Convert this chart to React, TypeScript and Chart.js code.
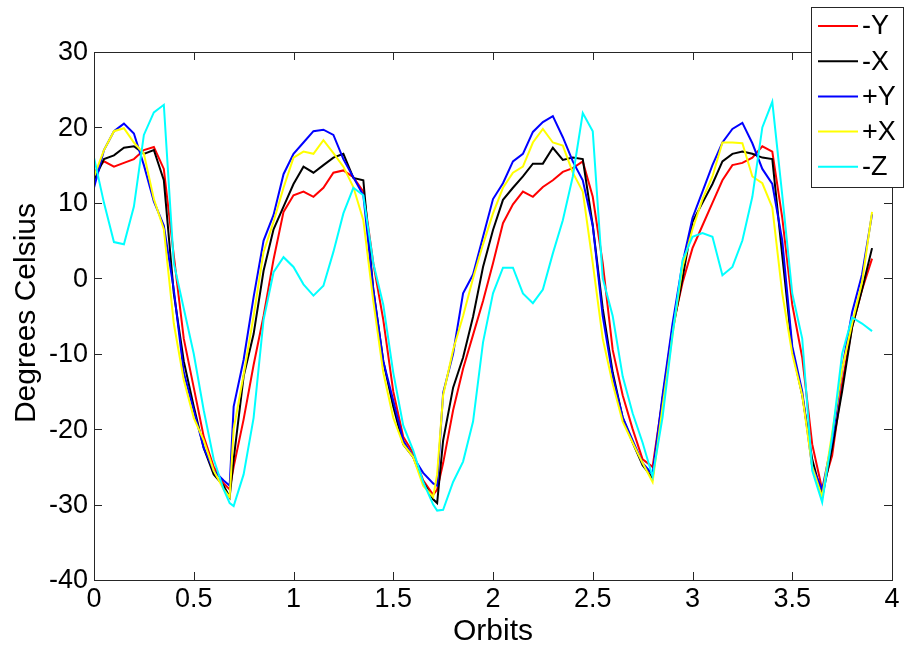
import React, { useEffect, useRef } from "react";
import { Chart, registerables } from "chart.js";

Chart.register(...registerables);

const orbits = [
  0, 0.05, 0.1, 0.15, 0.2, 0.25, 0.3, 0.35, 0.4, 0.45, 0.5, 0.55, 0.6, 0.65, 0.68, 0.7,
  0.75, 0.8, 0.85, 0.9, 0.95, 1.0, 1.05, 1.1, 1.15, 1.2, 1.25, 1.3, 1.35, 1.4, 1.45, 1.5,
  1.55, 1.6, 1.65, 1.7, 1.72, 1.75, 1.8, 1.85, 1.9, 1.95, 2.0, 2.05, 2.1, 2.15, 2.2, 2.25,
  2.3, 2.35, 2.4, 2.45, 2.5, 2.55, 2.6, 2.65, 2.7, 2.75, 2.8, 2.85, 2.9, 2.95, 3.0, 3.05,
  3.1, 3.15, 3.2, 3.25, 3.3, 3.35, 3.4, 3.45, 3.5, 3.55, 3.6, 3.65, 3.7, 3.75, 3.8, 3.85, 3.9,
];

const minusY = [
  14, 15.5, 14.8, 15.3, 15.8, 17, 17.4, 14.5, 3, -8, -14.5, -21, -25, -27.2, -28, -25,
  -18.7, -11.5, -5, 2.5, 8.8, 11, 11.5, 10.8, 12, 14, 14.3, 13.4, 11.5, 2, -5.5, -15,
  -21, -23.2, -26.8, -28.7, -28, -24.5, -17.5, -12, -7.5, -3, 2, 7.3, 9.8, 11.5, 10.8, 12.1,
  13, 14.1, 14.6, 15.5, 10.8, 2, -9.5, -15.5, -20, -24, -25, -16, -6.5, -0.6, 4, 7,
  10, 13, 15, 15.3, 16, 17.5, 16.8, 8, -3.5, -10.5, -22, -28, -23.5, -14, -6.5, -1.5, 2.6,
];

const minusX = [
  13, 15.8, 16.3, 17.3, 17.5, 16.5, 17, 13, -2, -11, -17, -22.5, -26, -27.5, -29, -24,
  -13, -7.4, 1, 6.5, 9.5, 12.5, 14.8, 14, 15, 16, 16.5, 13.3, 13, -1.5, -11, -17,
  -22, -23.7, -27, -29.3, -29.8, -21.5, -14.5, -10.5, -5.1, 1.5, 6.4, 10.4, 12, 13.5, 15.2, 15.2,
  17.3, 15.7, 16, 15.8, 7, -4, -12.5, -18.5, -21.8, -24.8, -26.5, -16, -7, 0, 7.5, 10,
  12.5, 15.5, 16.5, 16.8, 16.5, 16, 15.8, 3, -9.5, -15.5, -24, -29, -22.5, -15, -6.5, -1.5, 4,
];

const plusY = [
  12, 17, 19.5, 20.5, 19.2, 15, 10.2, 7, -1.5, -12.5, -17.5, -22.5, -25.5, -26.8, -27.5, -17,
  -10.8, -2.5, 5, 8.4, 13.8, 16.5, 18, 19.5, 19.7, 19, 15.8, 13.4, 11, -1.5, -11, -16.2,
  -21.5, -23.7, -25.8, -27.2, -27.5, -15.2, -10, -2, 0.5, 5.5, 10.5, 12.6, 15.5, 16.5, 19.4, 20.7,
  21.5, 18.7, 15.5, 13, 7, -5, -13, -18.4, -21.5, -24.5, -26, -15.5, -6, 2, 8, 11.5,
  15, 18, 19.8, 20.6, 17.9, 14.5, 12.5, 5, -9, -15, -25, -28, -21.5, -12, -4.5, 0.5, 8.5,
];

const plusX = [
  13.5, 17, 19.5, 19.9, 18, 16.5, 10.5, 6.5, -6, -13.5, -18.5, -21.5, -25.5, -28, -29, -20,
  -12.8, -5, 3.5, 7.5, 12, 16, 16.8, 16.5, 18.3, 16.6, 14.8, 12.1, 7.7, -3, -12.5, -18.5,
  -22, -23.7, -27.5, -29, -26, -15.5, -9.5, -5, 0, 4.5, 8.6, 12, 14, 14.8, 18, 19.8,
  18, 17.6, 14, 11.5, 2, -8, -14, -19, -21.8, -24.5, -27, -17, -7.5, 1.5, 6.5, 10.5,
  13.5, 18, 18, 17.9, 13.5, 12.6, 9.4, -2, -10, -15.5, -25, -29, -20.5, -12, -6, -0.5, 8.8,
];

const minusZ = [
  16, 10, 4.8, 4.5, 9.5, 19, 22, 23, 2, -4, -10, -17.5, -24, -28, -29.8, -30.2,
  -26, -18.5, -5.5, 0.8, 2.8, 1.5, -0.8, -2.3, -1, 3.5, 8.6, 12, 11, 2, -3.5, -12.5,
  -19.5, -22.8, -27, -30, -30.8, -30.7, -27, -24.3, -19, -8.5, -2, 1.4, 1.4, -2, -3.3, -1.5,
  3.3, 7.7, 13.5, 21.9, 19.5, 0, -5, -13, -17.9, -21.8, -26.3, -18.4, -7.5, 2.4, 5.5, 6,
  5.5, 0.4, 1.5, 5, 10.8, 20, 23.4, 11, -2, -8, -25.5, -29.7, -21, -10, -5.2, -6, -7,
];

const xTicks = [0, 0.5, 1, 1.5, 2, 2.5, 3, 3.5, 4];
const yTicks = [-40, -30, -20, -10, 0, 10, 20, 30];
const xTickLabels = ["0", "0.5", "1", "1.5", "2", "2.5", "3", "3.5", "4"];
const yTickLabels = ["-40", "-30", "-20", "-10", "0", "10", "20", "30"];

const seriesNames = ["-Y", "-X", "+Y", "+X", "-Z"];
const seriesColors = ["#ff0000", "#000000", "#0000ff", "#ffff00", "#00ffff"];
const seriesValues = [minusY, minusX, plusY, plusX, minusZ];

const FONT = '"Liberation Sans", Arial, Helvetica, sans-serif';

const framePlugin = {
  id: "matlabFrame",
  afterDatasetsDraw(chart: any) {
    const ctx = chart.ctx as CanvasRenderingContext2D;
    const { left, right, top, bottom } = chart.chartArea;
    const xs = chart.scales.x;
    const ys = chart.scales.y;
    ctx.save();
    // box
    ctx.strokeStyle = "#262626";
    ctx.lineWidth = 1;
    ctx.strokeRect(Math.round(left) + 0.5, Math.round(top) + 0.5, Math.round(right - left), Math.round(bottom - top));
    // ticks
    const tl = 8;
    ctx.beginPath();
    xTicks.forEach((t, i) => {
      if (i === 0 || i === xTicks.length - 1) return;
      const px = Math.round(xs.getPixelForValue(t)) + 0.5;
      ctx.moveTo(px, bottom);
      ctx.lineTo(px, bottom - tl);
      ctx.moveTo(px, top);
      ctx.lineTo(px, top + tl);
    });
    yTicks.forEach((t, i) => {
      if (i === 0 || i === yTicks.length - 1) return;
      const py = Math.round(ys.getPixelForValue(t)) + 0.5;
      ctx.moveTo(left, py);
      ctx.lineTo(left + tl, py);
      ctx.moveTo(right, py);
      ctx.lineTo(right - tl, py);
    });
    ctx.stroke();

    // tick labels
    ctx.fillStyle = "#000";
    ctx.font = `27px ${FONT}`;
    ctx.textAlign = "center";
    ctx.textBaseline = "middle";
    xTicks.forEach((t, i) => {
      ctx.fillText(xTickLabels[i], xs.getPixelForValue(t), bottom + 20);
    });
    ctx.textAlign = "right";
    yTicks.forEach((t, i) => {
      ctx.fillText(yTickLabels[i], left - 6, ys.getPixelForValue(t) + 1);
    });

    // axis titles
    ctx.font = `30px ${FONT}`;
    ctx.textAlign = "center";
    ctx.fillText("Orbits", (left + right) / 2, bottom + 52);
    ctx.save();
    ctx.translate(27, (top + bottom) / 2 - 3);
    ctx.rotate(-Math.PI / 2);
    ctx.fillText("Degrees Celsius", 0, 0);
    ctx.restore();

    // legend
    const lx = 811.5, ly = 7.5, lw = 92, lh = 180;
    ctx.fillStyle = "#fff";
    ctx.fillRect(lx, ly, lw, lh);
    ctx.strokeStyle = "#262626";
    ctx.lineWidth = 1;
    ctx.strokeRect(lx, ly, lw, lh);
    ctx.font = `27px ${FONT}`;
    ctx.textAlign = "left";
    ctx.textBaseline = "middle";
    seriesNames.forEach((name, i) => {
      const ry = 26 + i * 35.2;
      ctx.strokeStyle = seriesColors[i];
      ctx.lineWidth = 2;
      ctx.beginPath();
      ctx.moveTo(818, ry);
      ctx.lineTo(858, ry);
      ctx.stroke();
      ctx.fillStyle = "#000";
      ctx.fillText(name, 862, ry + 1);
    });
    ctx.restore();
  },
};

export default function App() {
  const ref = useRef<HTMLCanvasElement | null>(null);
  useEffect(() => {
    if (!ref.current) return;
    const datasets = seriesNames.map((name, i) => ({
      label: name,
      data: orbits.map((o, j) => ({ x: o, y: seriesValues[i][j] })),
      borderColor: seriesColors[i],
      backgroundColor: seriesColors[i],
      borderWidth: 2,
      pointRadius: 0,
      tension: 0,
      fill: false,
      order: seriesNames.length - i,
    }));
    const chart = new Chart(ref.current, {
      type: "line",
      data: { datasets },
      options: {
        animation: false,
        responsive: false,
        devicePixelRatio: 1,
        layout: { padding: { top: 52, right: 12, left: 0, bottom: 0 } },
        plugins: { legend: { display: false }, tooltip: { enabled: false } },
        scales: {
          x: {
            type: "linear",
            min: 0,
            max: 4,
            grid: { display: false },
            border: { display: false },
            ticks: { display: false, stepSize: 0.5 },
            afterFit: (s: any) => { s.height = 66; },
          },
          y: {
            type: "linear",
            min: -40,
            max: 30,
            grid: { display: false },
            border: { display: false },
            ticks: { display: false, stepSize: 10 },
            afterFit: (s: any) => { s.width = 94; },
          },
        },
      },
      plugins: [framePlugin],
    });
    return () => chart.destroy();
  }, []);
  return (
    <div style={{ position: "fixed", left: 0, top: 0, width: 904, height: 646, background: "#fff" }}>
      <canvas ref={ref} width={904} height={646} />
    </div>
  );
}
